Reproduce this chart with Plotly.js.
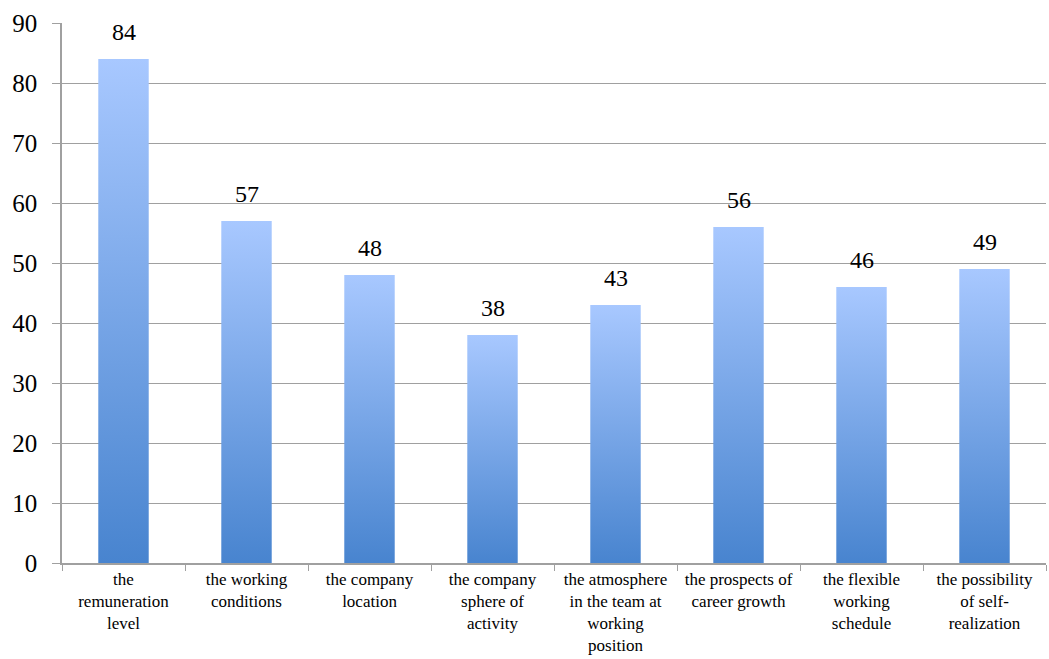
<!DOCTYPE html>
<html>
<head>
<meta charset="utf-8">
<script src="https://cdn.plot.ly/plotly-3.0.1.min.js"></script>
<style>html,body{margin:0;padding:0;background:#fff;}#chart{width:1049px;height:659px;}</style>
</head>
<body>
<div id="chart"></div>
<script>
const categories = [
  "the<br>remuneration<br>level",
  "the working<br>conditions",
  "the company<br>location",
  "the company<br>sphere of<br>activity",
  "the atmosphere<br>in the team at<br>working<br>position",
  "the prospects of<br>career growth",
  "the flexible<br>working<br>schedule",
  "the possibility<br>of self-<br>realization"
];
const values = [84, 57, 48, 38, 43, 56, 46, 49];
const yTicks = [0, 10, 20, 30, 40, 50, 60, 70, 80, 90];

const fontFamily = "Liberation Serif";

const trace = {
  type: "bar",
  x: categories,
  y: values,
  marker: {color: "#7aa8ec", line: {width: 0}},
  hoverinfo: "x+y"
};

const annotations = categories.map((c, i) => ({
  x: c, y: values[i], xref: "x", yref: "y",
  text: String(values[i]), showarrow: false,
  yanchor: "bottom", yshift: 12,
  font: {family: fontFamily, size: 24, color: "#000000"}
}));

const layout = {
  width: 1049, height: 659,
  margin: {l: 62, r: 3, t: 23, b: 96},
  paper_bgcolor: "#fff", plot_bgcolor: "#fff",
  bargap: 0.59,
  showlegend: false,
  font: {family: fontFamily, color: "#000000"},
  xaxis: {
    showline: true, linecolor: "#a0a0a0", linewidth: 1.5,
    ticks: "outside", tickson: "boundaries", ticklen: 6, tickcolor: "#a0a0a0",
    tickfont: {family: fontFamily, size: 17, color: "#000000"},
    tickangle: 0, showgrid: false
  },
  yaxis: {
    range: [0, 90], tickvals: yTicks, ticktext: yTicks.map(String),
    showline: true, linecolor: "#a0a0a0", linewidth: 1.5,
    showgrid: true, gridcolor: "#a0a0a0", gridwidth: 1.2,
    ticks: "outside", ticklen: 8, tickcolor: "#a0a0a0",
    ticklabelstandoff: 10,
    tickfont: {family: fontFamily, size: 25, color: "#000000"},
    zeroline: false
  },
  annotations: annotations
};

Plotly.newPlot("chart", [trace], layout, {displayModeBar: false}).then(function(gd){
  const svg = gd.querySelector("svg.main-svg");
  const ns = "http://www.w3.org/2000/svg";
  let defs = svg.querySelector("defs");
  if (!defs) { defs = document.createElementNS(ns, "defs"); svg.insertBefore(defs, svg.firstChild); }
  const g = document.createElementNS(ns, "linearGradient");
  g.setAttribute("id", "barGrad");
  g.setAttribute("x1", "0"); g.setAttribute("y1", "0");
  g.setAttribute("x2", "0"); g.setAttribute("y2", "1");
  [["0", "#a8c8ff"], ["1", "#4884cf"]].forEach(function(s){
    const st = document.createElementNS(ns, "stop");
    st.setAttribute("offset", s[0]); st.setAttribute("stop-color", s[1]);
    g.appendChild(st);
  });
  defs.appendChild(g);
  gd.querySelectorAll(".bars .point path").forEach(function(p){
    p.style.fill = "url(#barGrad)";
  });
});
</script>
</body>
</html>
